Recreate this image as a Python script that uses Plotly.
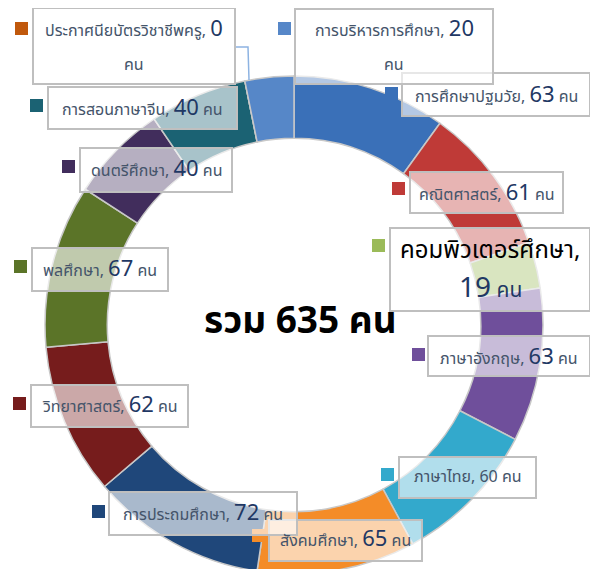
import plotly.graph_objects as go

# ---------------- data ----------------
categories = [
    "การศึกษาปฐมวัย", "คณิตศาสตร์", "คอมพิวเตอร์ศึกษา", "ภาษาอังกฤษ",
    "ภาษาไทย", "สังคมศึกษา", "การประถมศึกษา", "วิทยาศาสตร์",
    "พลศึกษา", "ดนตรีศึกษา", "การสอนภาษาจีน", "ประกาศนียบัตรวิชาชีพครู",
    "การบริหารการศึกษา",
]
values = [63, 61, 19, 63, 60, 65, 72, 62, 67, 40, 40, 0, 20]
unit = "คน"
total_text = "รวม 635 คน"

# ---------------- styles ----------------
colors = [
    "#3a70b8", "#bf3a37", "#9bbb59", "#6f4f9b",
    "#33a9cc", "#f48c28", "#1f477a", "#761c1c",
    "#5b7428", "#412d5c", "#1b6273", "#c0580c",
    "#5687c8",
]

W, H = 598, 569
OFF = 8  # page body margin
FONT = "Tahoma, 'Noto Sans Thai', 'Leelawadee UI', 'Noto Sans', sans-serif"
NAME_C = "#44546a"
NUM_C = "#1f3864"

# label layout (screen px): box (x0, y0, x1, y1), marker (x0, y0), text line y's, style
label_layout = [
    dict(box=(402, 73, 590, 116), mk=(385, 87), ty=[95], style="normal"),
    dict(box=(410, 172, 563, 213), mk=(392, 182), ty=[193], style="normal"),
    dict(box=(390, 228, 590, 311), mk=(372, 239), ty=[251, 288], style="big"),
    dict(box=(428, 336, 590, 376), mk=(412, 348), ty=[357], style="normal"),
    dict(box=(399, 457, 536, 498), mk=(381, 468), ty=[477], style="small"),
    dict(box=(269, 520, 422, 561), mk=(252, 529), ty=[539], style="normal"),
    dict(box=(109, 492, 297, 535), mk=(92, 505), ty=[513], style="normal"),
    dict(box=(31, 385, 188, 427), mk=(13, 397), ty=[405], style="normal"),
    dict(box=(32, 248, 168, 291), mk=(14, 260), ty=[269], style="normal"),
    dict(box=(80, 148, 232, 192), mk=(62, 160), ty=[170], style="normal"),
    dict(box=(48, 87, 237, 129), mk=(30, 99), ty=[108], style="normal"),
    dict(box=(33, 8, 235, 84), mk=(15, 22), ty=[30, 65], style="two"),
    dict(box=(295, 9, 493, 84), mk=(278, 22), ty=[30, 65], style="two"),
]

def px(x):
    return (x - OFF) / W

def py(y):
    return 1 - (y - OFF) / H

def span(t, size, color):
    return f"<span style='font-size:{size}px;color:{color}'>{t}</span>"

fig = go.Figure()

# donut: screen centre (294, 325), outer radius 249
fig.add_trace(go.Pie(
    labels=categories,
    values=values,
    sort=False,
    direction="clockwise",
    rotation=0,
    hole=0.75,
    textinfo="none",
    hoverinfo="label+value",
    marker=dict(colors=colors, line=dict(color="#c8c8c8", width=1.5)),
    domain=dict(x=[px(45), px(543)], y=[py(574), py(76)]),
    showlegend=False,
))

shapes = []
annotations = []

for cat, val, col, lay in zip(categories, values, colors, label_layout):
    x0, y0, x1, y1 = lay["box"]
    shapes.append(dict(
        type="rect", xref="paper", yref="paper",
        x0=px(x0), x1=px(x1), y0=py(y1), y1=py(y0),
        fillcolor="rgba(255,255,255,0.62)",
        line=dict(color="#bfbfbf", width=2), layer="above",
    ))
    mx, my = lay["mk"]
    shapes.append(dict(
        type="rect", xref="paper", yref="paper",
        x0=px(mx), x1=px(mx + 13), y0=py(my + 13), y1=py(my),
        fillcolor=col, line=dict(width=0), layer="above",
    ))
    cx = px((x0 + x1) / 2)
    st = lay["style"]
    if st == "normal":
        lines = [span(cat + ", ", 16, NAME_C) + span(str(val), 22, NUM_C) + span(" " + unit, 16, NAME_C)]
    elif st == "small":
        lines = [span(f"{cat}, {val} {unit}", 16, NAME_C)]
    elif st == "big":
        lines = [span(cat + ",", 24, "#000000"),
                 span(str(val), 28, NUM_C) + span(" " + unit, 21, NUM_C)]
    else:  # two lines
        lines = [span(cat + ", ", 16, NAME_C) + span(str(val), 22, NUM_C),
                 span(unit, 16, NAME_C)]
    for t, ty in zip(lines, lay["ty"]):
        annotations.append(dict(
            text=t, xref="paper", yref="paper", x=cx, y=py(ty),
            xanchor="center", yanchor="middle", showarrow=False,
            font=dict(family=FONT, size=16, color=NAME_C),
        ))

# leader line for the zero-value slice
shapes.append(dict(
    type="path", xref="paper", yref="paper",
    path=f"M {px(236)} {py(47)} L {px(248)} {py(47)} L {px(249)} {py(80)}",
    line=dict(color="#8db3e2", width=1.5), layer="above",
))

annotations.append(dict(
    text=f"<b>{total_text}</b>", xref="paper", yref="paper",
    x=px(300), y=py(322), xanchor="center", yanchor="middle", showarrow=False,
    font=dict(family=FONT, size=37, color="#000000"),
))

fig.update_layout(
    width=W, height=H,
    margin=dict(l=0, r=0, t=0, b=0),
    paper_bgcolor="white", plot_bgcolor="white",
    shapes=shapes, annotations=annotations,
    font=dict(family=FONT),
)

fig.write_html("out.html")
